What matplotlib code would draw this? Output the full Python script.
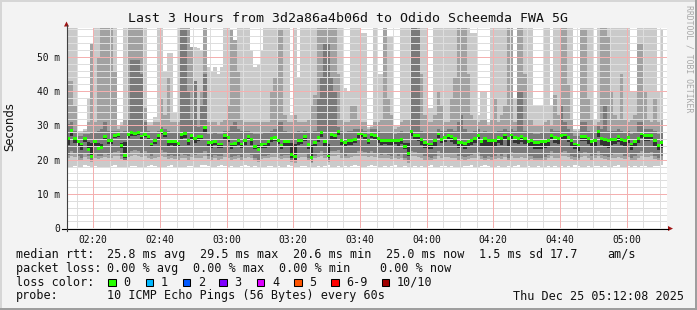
import numpy as np
import matplotlib
matplotlib.use("Agg")
import matplotlib.pyplot as plt
from matplotlib.patches import Rectangle, Polygon
from matplotlib.lines import Line2D

# ---------------- data ----------------
view_start = 2 * 60 + 12 + 8 / 60.0   # 02:12:08 in minutes since midnight
view_end = view_start + 180.0         # 05:12:08
first_step = 2 * 60 + 12              # first one-minute step starts 02:12

rtt_median = [
    26.2, 28.4, 26.2, 25.2, 24.6, 26.1, 22.9, 20.9, 25.2, 23.3,
    23.6, 26.7, 25.5, 25.7, 27.0, 27.3, 24.1, 21.2, 27.3, 27.9,
    27.6, 28.0, 26.9, 27.3, 26.7, 24.6, 25.6, 27.0, 28.6, 27.6,
    25.4, 25.2, 25.2, 24.7, 27.4, 27.7, 25.7, 27.0, 26.2, 26.7,
    26.8, 29.5, 24.9, 25.0, 25.4, 24.6, 24.6, 27.0, 26.6, 24.6,
    24.7, 25.5, 24.6, 25.5, 26.7, 25.9, 23.9, 23.0, 24.4, 24.6,
    25.2, 26.1, 26.5, 25.7, 24.3, 25.3, 25.2, 21.4, 20.9, 25.5,
    25.7, 26.7, 24.5, 20.6, 24.9, 26.4, 28.0, 25.2, 21.1, 27.3,
    27.1, 28.2, 25.5, 24.9, 25.7, 25.7, 26.0, 27.5, 27.5, 27.0,
    25.7, 27.4, 27.0, 26.2, 25.7, 25.7, 25.7, 25.7, 25.7, 25.5,
    26.0, 23.8, 21.9, 28.2, 27.0, 27.0, 26.0, 25.1, 24.6, 24.6,
    25.5, 27.5, 26.0, 26.5, 27.0, 26.7, 26.2, 25.1, 25.1, 24.8,
    25.3, 25.7, 26.2, 27.0, 25.4, 26.2, 25.5, 25.5, 25.5, 26.5,
    26.2, 27.2, 26.2, 27.2, 26.5, 26.2, 26.7, 26.2, 25.3, 25.5,
    25.0, 25.0, 25.3, 25.3, 25.5, 27.0, 26.5, 26.2, 27.0, 27.2,
    26.5, 25.5, 24.6, 24.3, 26.7, 26.7, 26.2, 25.3, 25.7, 28.2,
    26.2, 26.0, 25.5, 26.0, 26.0, 26.7, 26.0, 25.5, 26.5, 24.6,
    25.3, 26.2, 27.5, 27.0, 27.0, 27.0, 25.5, 24.1, 25.1,
]

# smoke band 1 (lightest): top edge
smoke_top1 = [
    60, 60, 60, 28.5, 28.5, 29, 38, 54, 60, 60,
    60, 60, 60, 60, 60, 30, 31, 60, 60, 60,
    60, 60, 60, 60, 31, 31, 32.5, 60, 60, 45.5,
    51, 51, 34, 60, 60, 60, 60, 53, 53, 52.5,
    52, 60, 47, 46, 47, 45, 47, 60, 60, 58,
    55, 60, 60, 60, 60, 52, 47, 48, 52, 60,
    60, 60, 60, 60, 60, 60, 60, 33, 60, 44,
    60, 60, 60, 60, 60, 60, 60, 60, 60, 60,
    60, 60, 60, 41, 40, 60, 60, 60, 57, 57,
    29.5, 30, 60, 45, 45, 60, 56, 56, 30, 30,
    60, 60, 60, 60, 60, 60, 60, 60, 35, 35,
    60, 60, 60, 60, 60, 60, 60, 60, 60, 60,
    60, 57, 57, 33, 40, 40, 31, 60, 60, 60,
    60, 60, 60, 60, 38, 60, 60, 60, 60, 60,
    36, 36, 36, 60, 60, 36, 60, 60, 60, 60,
    60, 60, 29, 29, 60, 60, 60, 60, 32, 60,
    60, 60, 60, 60, 60, 60, 60, 60, 60, 40,
    40, 60, 60, 60, 60, 60, 60, 40, 58,
]

smoke_top2 = [
    43, 43, 36, 28, 28, 28.5, 31, 54, 31, 50,
    60, 60, 60, 60, 46, 29, 30, 32, 60, 60,
    60, 60, 60, 35, 30, 30, 31, 31, 38, 33,
    44, 31, 31, 31, 60, 60, 60, 53, 40, 32,
    40, 60, 31, 31, 31, 30, 31, 32, 36, 58,
    55, 46, 32, 31, 31, 31, 31, 31, 31, 31,
    31, 40, 44, 58, 58, 33, 31, 31, 33, 31,
    31, 31, 32, 36, 39, 60, 60, 60, 60, 60,
    60, 45, 32, 31, 31, 36, 36, 32, 31, 31,
    29, 29.5, 31, 31, 32, 60, 38, 33, 29, 29.5,
    31, 32, 32, 60, 60, 60, 45, 33, 31, 31,
    33, 40, 36, 31, 31, 38, 44, 60, 60, 60,
    45, 33, 32, 31, 32, 32, 30, 32, 38, 31,
    33, 36, 60, 60, 31, 60, 60, 45, 32, 32,
    30, 30, 30, 31, 32, 30, 39, 33, 60, 60,
    42, 32, 28.5, 28.5, 58, 58, 38, 32, 30, 31,
    60, 60, 56, 40, 33, 32, 45, 32, 31, 32,
    33, 54, 54, 40, 32, 31, 38, 31, 32,
]

smoke_top3 = [
    30.5, 31, 28.5, 27, 27, 27.5, 27.5, 28, 28, 28.5,
    29, 31, 28.5, 28.5, 28.5, 28.5, 28, 28.5, 32, 49,
    49, 49, 45, 31, 28.5, 28, 28, 28.5, 29.5, 29,
    28.5, 28, 28, 28, 58, 58, 40, 32, 43, 29.5,
    36, 45, 27.5, 27.5, 28, 27.5, 27.5, 28.5, 28.5, 30,
    31, 29, 28.5, 28.5, 28.5, 28, 27.5, 27.5, 27.5, 28,
    28, 28.5, 29, 31, 31, 28.5, 28, 28, 28, 28.5,
    28, 28.5, 28, 28, 28.5, 38, 44, 54, 54, 44,
    40, 29.5, 28.5, 28, 28.5, 28.5, 29, 29, 29, 28.5,
    27.5, 29, 29, 28.5, 28, 28, 28, 28, 27.5, 28,
    28.5, 28, 28, 60, 60, 58, 28.5, 28, 28, 28,
    28, 29, 28.5, 28.5, 29, 29, 28.5, 31, 33, 29,
    28, 28, 28.5, 29, 28, 28.5, 28, 28, 28, 28.5,
    28.5, 29, 28.5, 29, 28.5, 40, 40, 28.5, 28, 28,
    27.5, 27.5, 28, 28, 28, 29, 28.5, 28.5, 36, 31,
    29, 28, 27, 27, 31, 31, 28.5, 28, 28, 30,
    29, 36, 28.5, 28.5, 28.5, 29, 28.5, 28, 28.5, 27.5,
    28, 31, 31, 29, 29, 29, 28.5, 27.5, 28,
]

smoke_top4 = [
    26.0, 28.2, 26.0, 25.0, 24.5, 25.9, 25.2, 25.0, 25.0, 24.8,
    24.6, 26.5, 25.3, 25.5, 26.8, 27.1, 24.8, 25.2, 27.1, 27.7,
    27.4, 27.8, 26.7, 27.1, 26.5, 24.5, 25.4, 26.8, 28.4, 27.4,
    25.2, 25.0, 25.0, 24.6, 27.2, 27.5, 25.5, 26.8, 26.0, 26.5,
    26.6, 29.3, 24.8, 24.9, 25.2, 24.5, 24.5, 26.8, 26.4, 24.5,
    24.6, 25.3, 24.5, 25.3, 26.5, 25.7, 24.4, 24.2, 24.3, 24.5,
    25.0, 25.9, 26.3, 25.5, 24.2, 25.1, 25.0, 24.8, 24.6, 25.3,
    25.5, 26.5, 24.4, 24.2, 24.8, 26.2, 27.8, 25.0, 24.6, 27.1,
    26.9, 28.0, 25.3, 24.8, 25.5, 25.5, 25.8, 27.3, 27.3, 26.8,
    25.5, 27.2, 26.8, 26.0, 25.5, 25.5, 25.5, 25.5, 25.5, 25.3,
    25.8, 25.0, 24.8, 28.0, 26.8, 26.8, 25.8, 24.9, 24.5, 24.5,
    25.3, 27.3, 25.8, 26.3, 26.8, 26.5, 26.0, 24.9, 24.9, 24.6,
    25.1, 25.5, 26.0, 26.8, 25.2, 26.0, 25.3, 25.3, 25.3, 26.3,
    26.0, 27.0, 26.0, 27.0, 26.3, 26.0, 26.5, 26.0, 25.1, 25.3,
    24.9, 24.9, 25.1, 25.1, 25.3, 26.8, 26.3, 26.0, 26.8, 27.0,
    26.3, 25.3, 24.5, 24.2, 26.5, 26.5, 26.0, 25.1, 25.5, 28.0,
    26.0, 25.8, 25.3, 25.8, 25.8, 26.5, 25.8, 25.3, 26.3, 24.5,
    25.1, 26.0, 27.3, 26.8, 26.8, 26.8, 25.3, 24.6, 24.9,
]

smoke_bot4 = [
    24.3, 27.0, 25.0, 23.7, 22.8, 25.1, 22.4, 20.4, 24.1, 22.8,
    23.1, 25.9, 24.7, 24.6, 26.2, 26.5, 23.4, 20.6, 26.3, 26.9,
    26.8, 27.2, 26.0, 26.5, 25.7, 23.6, 24.7, 26.1, 27.6, 26.5,
    24.0, 24.3, 24.0, 23.6, 26.1, 26.2, 24.4, 26.1, 25.0, 25.5,
    25.7, 28.2, 23.7, 23.5, 24.4, 23.5, 23.4, 25.9, 25.1, 23.2,
    23.6, 24.3, 23.3, 24.4, 25.7, 24.4, 23.0, 22.5, 23.3, 23.5,
    24.0, 25.1, 25.5, 24.7, 23.1, 24.1, 23.9, 20.4, 20.0, 24.4,
    24.6, 25.6, 23.0, 20.1, 23.6, 25.1, 26.7, 23.7, 20.6, 26.1,
    26.0, 27.2, 24.3, 23.6, 24.4, 24.4, 24.9, 26.4, 26.5, 25.8,
    24.5, 26.2, 25.7, 24.9, 24.3, 24.5, 24.4, 24.2, 24.5, 24.1,
    24.7, 23.2, 21.0, 26.8, 25.7, 25.6, 24.4, 23.5, 23.2, 23.0,
    23.8, 26.2, 24.8, 25.2, 25.7, 25.3, 24.7, 23.5, 23.7, 23.2,
    23.7, 24.3, 24.8, 25.7, 23.6, 23.8, 23.9, 23.6, 23.8, 24.9,
    24.3, 25.8, 23.7, 25.9, 25.0, 24.5, 25.3, 24.6, 23.6, 23.9,
    23.2, 23.0, 23.2, 23.4, 24.1, 25.9, 25.0, 24.5, 25.7, 26.0,
    25.1, 23.9, 23.2, 22.6, 25.4, 25.6, 24.7, 23.6, 24.1, 26.7,
    24.4, 24.1, 23.5, 24.2, 24.5, 25.3, 24.4, 23.9, 25.0, 22.9,
    23.6, 24.8, 26.2, 25.6, 25.6, 25.7, 23.9, 22.8, 23.5,
]

smoke_bot3 = [
    21.5, 22.5, 22.0, 21.0, 20.6, 22.0, 21.0, 20.0, 21.8, 21.0,
    21.2, 22.0, 21.5, 21.8, 22.2, 22.4, 21.0, 20.0, 22.0, 22.6,
    22.8, 22.5, 22.0, 22.4, 21.6, 21.2, 21.8, 22.0, 22.8, 22.2,
    21.0, 21.5, 21.2, 21.0, 21.8, 21.4, 21.0, 22.0, 21.5, 21.8,
    21.6, 22.5, 21.0, 20.8, 21.5, 21.0, 21.0, 22.0, 21.6, 20.8,
    21.0, 21.5, 20.8, 21.6, 22.0, 21.5, 20.6, 20.0, 21.0, 21.2,
    21.5, 22.0, 22.0, 21.8, 21.0, 21.5, 21.5, 19.8, 19.5, 21.6,
    21.8, 22.0, 20.6, 19.4, 21.2, 22.0, 22.5, 21.4, 19.8, 22.4,
    22.4, 22.8, 21.6, 21.2, 21.6, 21.8, 22.0, 22.4, 22.6, 22.2,
    21.8, 22.4, 22.0, 21.8, 21.4, 21.6, 21.5, 21.2, 21.6, 21.2,
    21.8, 20.6, 19.6, 22.6, 22.2, 22.0, 21.6, 21.0, 20.8, 20.6,
    21.0, 22.4, 21.8, 21.8, 22.0, 21.8, 21.6, 21.0, 21.2, 20.8,
    21.0, 21.4, 21.8, 22.2, 21.0, 20.6, 21.2, 20.8, 21.0, 21.8,
    21.2, 22.0, 20.6, 22.2, 21.8, 21.6, 22.0, 21.6, 21.0, 21.2,
    20.6, 20.4, 20.6, 20.8, 21.4, 22.4, 21.8, 21.6, 22.2, 22.4,
    22.0, 21.2, 20.8, 20.4, 22.0, 22.2, 21.6, 21.0, 21.4, 22.6,
    21.4, 21.2, 20.8, 21.4, 21.6, 22.0, 21.6, 21.2, 21.8, 20.6,
    21.0, 21.8, 22.4, 22.0, 22.0, 22.2, 21.2, 20.4, 21.0,
]

smoke_bot2 = [
    20.5, 21.0, 20.8, 20.0, 19.8, 20.8, 20.2, 19.4, 20.6, 20.2,
    20.4, 20.8, 20.4, 20.6, 21.0, 21.2, 20.2, 19.5, 20.8, 21.2,
    21.4, 21.0, 20.8, 21.0, 20.6, 20.2, 20.6, 20.8, 21.2, 20.8,
    20.2, 20.6, 20.2, 20.0, 20.6, 20.4, 20.0, 20.8, 20.4, 20.6,
    20.6, 21.2, 20.2, 20.0, 20.4, 20.0, 20.2, 20.8, 20.4, 20.0,
    20.2, 20.6, 20.0, 20.6, 20.8, 20.4, 19.8, 19.4, 20.2, 20.4,
    20.6, 20.8, 20.8, 20.6, 20.2, 20.6, 20.4, 19.2, 19.0, 20.6,
    20.8, 20.8, 19.8, 18.9, 20.4, 20.8, 21.2, 20.4, 19.2, 21.0,
    21.0, 21.4, 20.6, 20.4, 20.6, 20.8, 21.0, 21.2, 21.2, 21.0,
    20.8, 21.2, 20.8, 20.6, 20.4, 20.6, 20.4, 20.2, 20.6, 20.2,
    20.6, 19.8, 19.0, 21.2, 21.0, 20.8, 20.6, 20.0, 20.0, 19.8,
    20.2, 21.0, 20.6, 20.8, 20.8, 20.6, 20.6, 20.0, 20.2, 20.0,
    20.2, 20.4, 20.6, 21.0, 20.2, 19.8, 20.2, 20.0, 20.2, 20.6,
    20.2, 20.8, 19.8, 21.0, 20.6, 20.6, 20.8, 20.6, 20.0, 20.2,
    19.8, 19.6, 19.8, 20.0, 20.4, 21.0, 20.6, 20.4, 21.0, 21.2,
    20.8, 20.2, 20.0, 19.6, 20.8, 21.0, 20.6, 20.0, 20.4, 21.2,
    20.4, 20.2, 20.0, 20.4, 20.6, 20.8, 20.6, 20.2, 20.8, 19.8,
    20.0, 20.6, 21.0, 20.8, 20.8, 21.0, 20.2, 19.6, 20.0,
]

smoke_bot1 = [
    17.5, 17.8, 18.2, 18.0, 17.6, 18.4, 18.1, 17.9, 18.3, 17.7,
    18.0, 17.6, 17.9, 18.2, 18.4, 17.8, 18.0, 17.5, 17.9, 18.1,
    18.3, 17.8, 18.0, 17.6, 18.2, 18.5, 18.1, 17.9, 17.7, 18.0,
    18.2, 18.4, 18.0, 17.8, 17.6, 17.9, 18.3, 18.1, 17.7, 18.0,
    18.4, 18.6, 18.2, 18.0, 17.8, 18.3, 18.5, 18.1, 17.9, 18.2,
    18.0, 17.7, 18.1, 18.4, 18.2, 17.9, 18.3, 18.0, 17.6, 17.8,
    18.1, 18.3, 17.9, 18.2, 18.0, 17.7, 18.4, 18.1, 17.8, 18.0,
    18.3, 18.1, 17.9, 17.6, 18.0, 18.2, 17.8, 18.1, 18.4, 18.0,
    17.9, 18.2, 18.0, 18.3, 17.7, 18.1, 18.4, 18.2, 17.9, 18.0,
    18.2, 18.5, 18.1, 17.8, 18.0, 18.3, 17.9, 18.1, 18.4, 18.0,
    17.8, 18.1, 17.6, 17.9, 18.2, 18.0, 18.3, 17.7, 18.1, 18.4,
    18.0, 17.8, 18.2, 18.1, 17.9, 18.3, 18.0, 17.6, 17.9, 18.2,
    18.1, 18.4, 18.0, 17.8, 18.2, 18.5, 18.3, 17.9, 18.0, 18.1,
    17.7, 18.0, 18.2, 17.9, 18.1, 18.4, 18.0, 17.8, 18.2, 17.5,
    17.8, 18.1, 17.6, 17.9, 18.2, 18.0, 18.3, 17.7, 18.1, 17.9,
    18.2, 18.0, 18.4, 18.1, 17.8, 18.0, 18.3, 17.9, 18.1, 18.2,
    17.9, 18.2, 18.0, 17.8, 18.1, 18.4, 18.0, 17.7, 18.2, 18.0,
    18.3, 17.9, 18.1, 18.2, 17.8, 18.0, 18.3, 18.1, 18.4,
]

x_major = [140, 160, 180, 200, 220, 240, 260, 280, 300]
x_major_labels = ["02:20", "02:40", "03:00", "03:20", "03:40",
                  "04:00", "04:20", "04:40", "05:00"]
y_major = [0, 10, 20, 30, 40, 50]
y_major_labels = ["0", "10 m", "20 m", "30 m", "40 m", "50 m"]
y_limit = 58.5

title = "Last 3 Hours from 3d2a86a4b06d to Odido Scheemda FWA 5G"
loss_labels = ["0", "1", "2", "3", "4", "5", "6-9", "10/10"]
loss_colors = ["#26ff00", "#00b8ff", "#0059ff", "#7e00ff",
               "#dd00ff", "#ff5500", "#ff0000", "#a10000"]

legend_rows = [
    [("median rtt:", 16), ("25.8 ms avg", 107), ("29.5 ms max", 200),
     ("20.6 ms min", 293), ("25.0 ms now", 386), ("1.5 ms sd", 479),
     ("17.7", 549.5), ("am/s", 607)],
    [("packet loss:", 16), ("0.00 % avg", 107), ("0.00 % max", 193),
     ("0.00 % min", 279), ("0.00 % now", 380)],
]
probe_text = "10 ICMP Echo Pings (56 Bytes) every 60s"
stamp_text = "Thu Dec 25 05:12:08 2025"

# ---------------- style ----------------
smoke_colors = ["#cacaca", "#a2a2a2", "#7a7a7a", "#333333"]
MONO = "DejaVu Sans Mono"
plt.rcParams["font.family"] = MONO

W, H = 697, 310
fig = plt.figure(figsize=(W / 100, H / 100), dpi=100)
fig.patch.set_facecolor("#f3f3f3")


def fx(px):
    return px / W


def fy(py):
    return 1 - py / H


PL, PR, PT, PB = 67, 667, 27.7, 228.3
ax = fig.add_axes([fx(PL), fy(PB), (PR - PL) / W, (PB - PT) / H])
ax.set_facecolor("white")
ax.set_xlim(view_start, view_end)
ax.set_ylim(0, y_limit)
for s in ax.spines.values():
    s.set_visible(False)

n = len(rtt_median)
edges = first_step + np.arange(n + 1)


def ext(a):
    a = np.asarray(a, float)
    return np.append(a, a[-1])


bands = [(smoke_bot1, smoke_top1), (smoke_bot2, smoke_top2),
         (smoke_bot3, smoke_top3), (smoke_bot4, smoke_top4)]
for (lo, hi), c in zip(bands, smoke_colors):
    ax.fill_between(edges, ext(lo), ext(hi), step="post", facecolor=c,
                    edgecolor="none", linewidth=0, zorder=1)

half_h = 0.42
med = np.asarray(rtt_median, float)
ax.bar(edges[:-1], 2 * half_h, bottom=med - half_h, width=1.0, align="edge",
       color="#26ff00", linewidth=0, zorder=4)

# grid (fine dotted look rendered as pale hairlines)
glw = 0.72
minor_x = [m for m in range(135, 313, 5) if m % 20 != 0]
minor_y = [v for v in range(2, 59, 2) if v % 10 != 0]
for m in minor_x:
    ax.axvline(m, color="#dedede", lw=glw, zorder=3, antialiased=False)
for v in minor_y:
    ax.axhline(v, color="#dedede", lw=glw, zorder=3, antialiased=False)
for m in x_major:
    ax.axvline(m, color="#f4b0b0", lw=glw, zorder=3, antialiased=False)
for v in y_major[1:]:
    ax.axhline(v, color="#f4b0b0", lw=glw, zorder=3, antialiased=False)

ax.set_xticks(x_major, x_major_labels)
ax.set_yticks(y_major, y_major_labels)
ax.tick_params(axis="x", length=0, pad=4.6, labelsize=6.9, labelcolor="#111")
ax.tick_params(axis="y", length=0, pad=5.2, labelsize=6.9, labelcolor="#111")

# axes lines and arrows
fig.add_artist(Line2D([fx(62), fx(668)], [fy(228.6)] * 2, color="black", lw=0.8))
fig.add_artist(Line2D([fx(66.5)] * 2, [fy(231), fy(25)], color="#404040", lw=0.8))
fig.add_artist(Polygon([(fx(64), fy(26.5)), (fx(69), fy(26.5)), (fx(66.5), fy(21.5))],
                       closed=True, transform=fig.transFigure, color="#a01515", lw=0))
fig.add_artist(Polygon([(fx(668), fy(226)), (fx(668), fy(231)), (fx(673), fy(228.6))],
                       closed=True, transform=fig.transFigure, color="#a01515", lw=0))

# frame
fig.add_artist(Rectangle((0, fy(2)), 1, fy(0) - fy(2), transform=fig.transFigure,
                         color="#d6d6d6", lw=0))
fig.add_artist(Rectangle((0, 0), fx(2), 1, transform=fig.transFigure,
                         color="#d6d6d6", lw=0))
fig.add_artist(Rectangle((0, 0), 1, fy(307.5), transform=fig.transFigure,
                         color="#9e9e9e", lw=0))
fig.add_artist(Rectangle((fx(694.5), 0), 1 - fx(694.5), 1, transform=fig.transFigure,
                         color="#9e9e9e", lw=0))

# texts
fig.text(fx(348), fy(19), title, ha="center", va="center", fontsize=9.55,
         family=MONO, color="#111")
fig.text(fx(10), fy(127), "Seconds", rotation=90, ha="center", va="center",
         fontsize=8.4, family="DejaVu Sans", color="#111")
fig.text(fx(688.5), fy(59), "RRDTOOL / TOBI OETIKER", rotation=270, ha="center",
         va="center", fontsize=5.9, family=MONO, color="#a8a8a8")

LFS = 8.43
row_y = [254.3, 268.3, 282.3, 296.0]
for row, yy in zip(legend_rows, row_y[:2]):
    for txt, xx in row:
        fig.text(fx(xx), fy(yy), txt, ha="left", va="center", fontsize=LFS,
                 family=MONO, color="#111")

fig.text(fx(16), fy(row_y[2]), "loss color:", ha="left", va="center",
         fontsize=LFS, family=MONO, color="#111")
sw_x = [108, 145.7, 182.7, 219.3, 256.7, 294, 331, 381.7]
for xx, lab, col in zip(sw_x, loss_labels, loss_colors):
    fig.add_artist(Rectangle((fx(xx), fy(row_y[2] + 3.8)), 7.5 / W, 7.5 / H,
                             transform=fig.transFigure, facecolor=col,
                             edgecolor="black", lw=0.75))
    fig.text(fx(xx + 15.2), fy(row_y[2]), lab, ha="left", va="center",
             fontsize=LFS, family=MONO, color="#111")

fig.text(fx(16), fy(row_y[3]), "probe:", ha="left", va="center", fontsize=LFS,
         family=MONO, color="#111")
fig.text(fx(107), fy(row_y[3]), probe_text, ha="left", va="center", fontsize=LFS,
         family=MONO, color="#111")
fig.text(fx(513.3), fy(row_y[3]), stamp_text, ha="left", va="center", fontsize=LFS,
         family=MONO, color="#111")

fig.savefig("out.png", dpi=100, facecolor=fig.get_facecolor())
